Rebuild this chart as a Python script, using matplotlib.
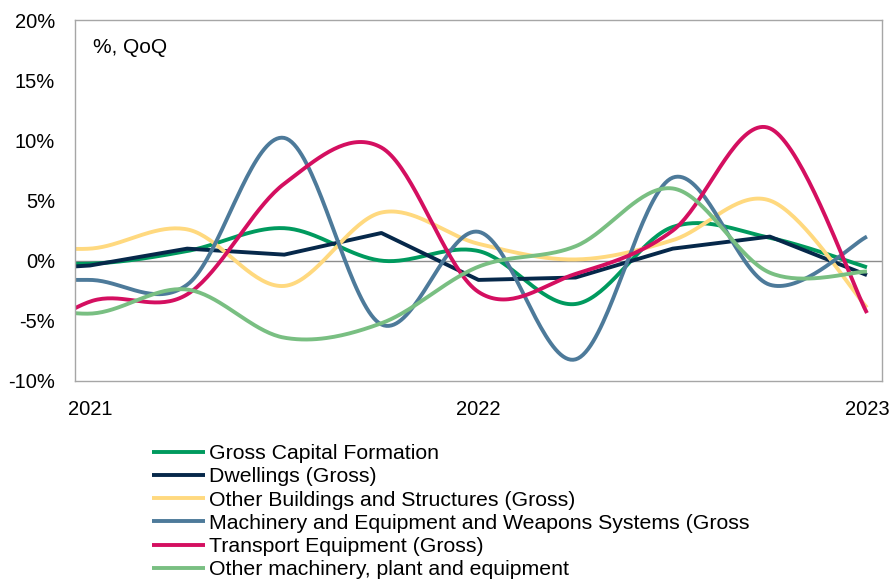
import numpy as np
import matplotlib
matplotlib.use("Agg")
import matplotlib.pyplot as plt

plt.rcParams['font.family'] = ['Liberation Sans', 'DejaVu Sans']

# quarterly growth, % QoQ (2020Q4 .. 2023Q1); first quarter only shapes the curve start
quarters = ["2020Q4", "2021Q1", "2021Q2", "2021Q3", "2021Q4",
            "2022Q1", "2022Q2", "2022Q3", "2022Q4", "2023Q1"]
gross_capital = [0.2, -0.25, 0.8, 2.7, 0.0, 0.8, -3.6, 2.8, 1.9, -0.55]
dwellings = [-0.9, -0.4, 1.0, 0.5, 2.3, -1.6, -1.4, 1.0, 2.0, -1.2]
other_buildings = [1.6, 1.0, 2.6, -2.1, 4.0, 1.4, 0.1, 1.7, 5.0, -3.9]
machinery_weapons = [-1.8, -1.6, -2.0, 10.2, -5.3, 2.4, -8.2, 6.9, -2.0, 2.0]
transport = [-8.5, -3.4, -2.8, 6.4, 9.4, -2.6, -1.1, 2.5, 11.0, -4.35]
other_machinery = [-3.0, -4.4, -2.4, -6.4, -5.2, -0.5, 1.2, 6.0, -1.0, -0.9]

series = [
    ("Gross Capital Formation", gross_capital, "#009A5E", True),
    ("Dwellings (Gross)", dwellings, "#06284A", False),
    ("Other Buildings and Structures (Gross)", other_buildings, "#FFD97F", True),
    ("Machinery and Equipment and Weapons Systems (Gross", machinery_weapons, "#4D7A9A", True),
    ("Transport Equipment (Gross)", transport, "#D40F60", True),
    ("Other machinery, plant and equipment", other_machinery, "#79BF82", True),
]


def smooth(x, y, steps=40):
    # bezier smoothing, control points from neighbouring points
    x = np.asarray(x, float)
    y = np.asarray(y, float)
    n = len(x)
    xs, ys = [], []
    for i in range(n - 1):
        p0 = np.array([x[max(i - 1, 0)], y[max(i - 1, 0)]])
        p1 = np.array([x[i], y[i]])
        p2 = np.array([x[i + 1], y[i + 1]])
        p3 = np.array([x[min(i + 2, n - 1)], y[min(i + 2, n - 1)]])
        c1 = p1 + (p2 - p0) / 6
        c2 = p2 - (p3 - p1) / 6
        t = np.linspace(0, 1, steps)[:, None]
        pts = ((1 - t) ** 3) * p1 + 3 * ((1 - t) ** 2) * t * c1 + 3 * (1 - t) * t ** 2 * c2 + t ** 3 * p2
        xs.extend(pts[:, 0])
        ys.extend(pts[:, 1])
    return np.array(xs), np.array(ys)


xpos = np.arange(len(quarters)) - 1

fig = plt.figure(figsize=(8.93, 5.81), dpi=100)
ax = fig.add_axes([75 / 893, 1 - 381 / 581, 807 / 893, 361 / 581])

ax.axhline(0, color="#8c8c8c", lw=1, zorder=1)

for label, vals, color, is_smooth in series:
    if is_smooth:
        sx, sy = smooth(xpos, vals)
    else:
        sx, sy = xpos, vals
    ax.plot(sx, sy, color=color, lw=2.8, label=label, solid_capstyle="butt", zorder=2)

ax.set_xlim(-0.155, 8.155)
ax.set_ylim(-10, 20)
ax.set_yticks(np.arange(-10, 21, 5))
ax.set_yticklabels([f"{v}%" for v in range(-10, 21, 5)])
ax.set_xticks([0, 4, 8])
ax.set_xticklabels(["2021", "2022", "2023"])
ax.tick_params(axis="both", length=0, labelsize=14.5, colors="black")
ax.tick_params(axis="y", pad=14.4)
ax.tick_params(axis="x", pad=13.5)
for sp in ax.spines.values():
    sp.set_color("#a6a6a6")
    sp.set_linewidth(1)

ax.text(0.022, 0.925, "%, QoQ", transform=ax.transAxes, fontsize=15, va="center", ha="left")

fig.legend(loc="upper left", bbox_to_anchor=(152 / 893, 1 - 444 / 581), frameon=False,
           fontsize=15.3, handlelength=2.5, handletextpad=0.19, labelspacing=0.2,
           borderpad=0, borderaxespad=0)

fig.savefig("out.png", dpi=100)
